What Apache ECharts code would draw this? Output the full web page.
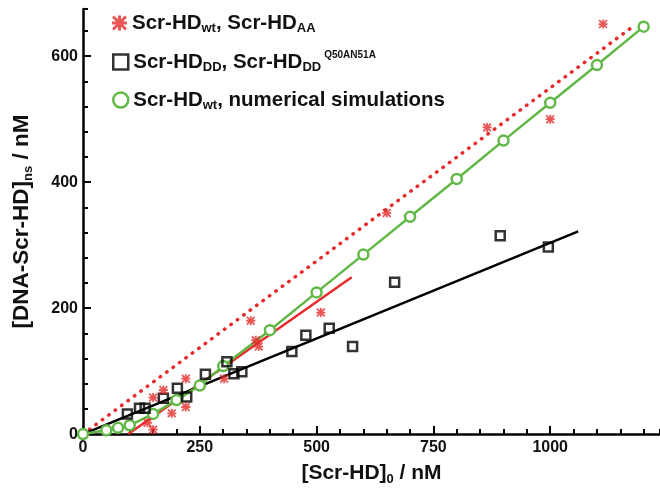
<!DOCTYPE html>
<html>
<head>
<meta charset="utf-8">
<script src="https://cdn.jsdelivr.net/npm/echarts@6/dist/echarts.min.js"></script>
<style>
html, body { margin: 0; background: #fff; }
#chart { width: 660px; height: 491px; }
</style>
</head>
<body>
<div id="chart"></div>
<script>
// Scr-HD_wt, Scr-HD_AA (red asterisks)
var wtExpX = [138, 150, 150, 172, 190, 220, 220, 302, 359, 370, 376, 509, 650, 865, 1000, 1113]
var wtExpY = [18, 7, 58, 70, 33, 88, 43, 88, 180, 149, 139, 193, 351, 487, 500, 651]
// Scr-HD_DD, Scr-HD_DD Q50AN51A (black squares)
var ddExpX = [95, 121, 133, 172, 202, 222, 262, 308, 323, 340, 447, 477, 527, 577, 667, 893, 996]
var ddExpY = [32, 41, 41, 57, 73, 59, 95, 115, 96, 99, 131, 157, 168, 139, 241, 315, 297]
// numerical simulations (green circles)
var simX = [0, 50, 75, 100, 150, 200, 250, 300, 400, 500, 600, 700, 800, 900, 1000, 1100, 1200]
var simY = [0, 6, 10, 14, 32, 54, 77, 108, 165, 225, 285, 345, 405, 466, 526, 586, 647]
// fit lines
var dottedFitX = [0, 1175]
var dottedFitY = [0, 646]
var redFitX = [97, 575]
var redFitY = [0, 249]
var blackFitX = [0, 1060]
var blackFitY = [0, 322]

var xMajor = 250, xMinor = 50, xMax = 1235
var yMajor = 200, yMinor = 40, yMax = 675

var red = '#e52b2b'
var green = '#62b846'
var font = 'Liberation Sans'
var starPath = 'path://M0 4L10 4L10 6L0 6Z M4 0L6 0L6 10L4 10Z M0 1.4L1.4 0L10 8.6L8.6 10Z M8.6 0L10 1.4L1.4 10L0 8.6Z'

function pairs(xs, ys) {
  return xs.map(function(x, i) { return [x, ys[i]] })
}

var richText = {
  sub: { fontFamily: font, fontWeight: 'bold', fontSize: 13, color: '#111', verticalAlign: 'bottom', padding: [9, 0, 0, 0] },
  sup: { fontFamily: font, fontWeight: 'bold', fontSize: 10, color: '#111', verticalAlign: 'top', padding: [0, 0, 12, 3] }
}
var legendText = {
  wtExp: 'Scr-HD{sub|wt}, Scr-HD{sub|AA}',
  ddExp: 'Scr-HD{sub|DD}, Scr-HD{sub|DD}{sup|Q50AN51A}',
  sim: 'Scr-HD{sub|wt}, numerical simulations'
}
function makeLegend(top, item) {
  return {
    left: 112,
    top: top,
    padding: 0,
    itemWidth: 15,
    itemHeight: 15,
    selectedMode: false,
    data: [item],
    formatter: function(name) { return legendText[name] },
    textStyle: { fontFamily: font, fontWeight: 'bold', fontSize: 20.5, color: '#111', lineHeight: 24, rich: richText }
  }
}

var axisLabelStyle = { fontFamily: font, fontWeight: 'bold', fontSize: 16, color: '#111' }
function nameStyle(size) {
  return {
    fontFamily: font, fontWeight: 'bold', fontSize: size, color: '#111', lineHeight: 26,
    rich: {
      sub: { fontFamily: font, fontWeight: 'bold', fontSize: 13, color: '#111', verticalAlign: 'bottom', padding: [10, 0, 0, 0] }
    }
  }
}

var option = {
  backgroundColor: '#fff',
  animation: false,
  grid: { left: 83, right: 0, top: 9, bottom: 55 },
  legend: [
    makeLegend(11, { name: 'wtExp', icon: starPath, itemStyle: { color: red } }),
    makeLegend(50, { name: 'ddExp', icon: 'rect', itemStyle: { color: '#fff', borderColor: '#000', borderWidth: 2.5 } }),
    makeLegend(88, { name: 'sim', icon: 'circle', itemStyle: { color: '#fff', borderColor: green, borderWidth: 2.5 } })
  ],
  xAxis: [
    {
      type: 'value', min: 0, max: xMax, interval: xMajor, position: 'bottom',
      axisLine: { show: true, lineStyle: { color: '#000', width: 2.5 } },
      axisTick: { inside: true, length: 8, lineStyle: { color: '#000', width: 2 } },
      axisLabel: Object.assign({ margin: 5, showMaxLabel: false, formatter: function(v) { return String(v) } }, axisLabelStyle),
      splitLine: { show: false },
      name: '[Scr-HD]{sub|0} / nM',
      nameLocation: 'middle',
      nameGap: 24,
      nameTextStyle: nameStyle(21)
    },
    {
      type: 'value', min: 0, max: xMax, interval: xMinor, position: 'bottom',
      axisLine: { show: false },
      axisTick: { show: true, inside: true, length: 5, lineStyle: { color: '#000', width: 2 } },
      axisLabel: { show: false },
      splitLine: { show: false }
    }
  ],
  yAxis: [
    {
      type: 'value', min: 0, max: yMax, interval: yMajor, position: 'left',
      axisLine: { show: true, lineStyle: { color: '#000', width: 2.5 } },
      axisTick: { inside: true, length: 8, lineStyle: { color: '#000', width: 2 } },
      axisLabel: Object.assign({ margin: 5, showMaxLabel: false }, axisLabelStyle),
      splitLine: { show: false },
      name: '[DNA-Scr-HD]{sub|ns} / nM',
      nameLocation: 'middle',
      nameRotate: 90,
      nameGap: 48,
      nameTextStyle: nameStyle(22.5)
    },
    {
      type: 'value', min: 0, max: yMax, interval: yMinor, position: 'left',
      axisLine: { show: false },
      axisTick: { show: true, inside: true, length: 5, lineStyle: { color: '#000', width: 2 } },
      axisLabel: { show: false },
      splitLine: { show: false }
    }
  ],
  series: [
    {
      name: 'dottedFit', type: 'line', symbol: 'none', silent: true,
      lineStyle: { color: red, width: 3.5, type: [0.5, 7.5], cap: 'round' },
      data: pairs(dottedFitX, dottedFitY)
    },
    {
      name: 'redFit', type: 'line', symbol: 'none', silent: true,
      lineStyle: { color: red, width: 2.5 },
      data: pairs(redFitX, redFitY)
    },
    {
      name: 'blackFit', type: 'line', symbol: 'none', silent: true,
      lineStyle: { color: '#000', width: 2.5 },
      data: pairs(blackFitX, blackFitY)
    },
    {
      name: 'sim', type: 'line', symbol: 'circle', symbolSize: 10, showAllSymbol: true,
      lineStyle: { color: green, width: 2.5 },
      itemStyle: { color: '#fff', borderColor: green, borderWidth: 2.5 },
      data: pairs(simX, simY),
      z: 3
    },
    {
      name: 'ddExp', type: 'scatter', symbol: 'rect', symbolSize: 9,
      itemStyle: { color: 'rgba(255,255,255,0)', borderColor: '#000', borderWidth: 2.5 },
      data: pairs(ddExpX, ddExpY),
      z: 4
    },
    {
      name: 'wtExp', type: 'scatter', symbol: starPath, symbolSize: 9,
      itemStyle: { color: red },
      data: pairs(wtExpX, wtExpY),
      z: 5
    }
  ]
}

var myChart = echarts.init(document.getElementById('chart'))
myChart.setOption(option)
</script>
</body>
</html>
